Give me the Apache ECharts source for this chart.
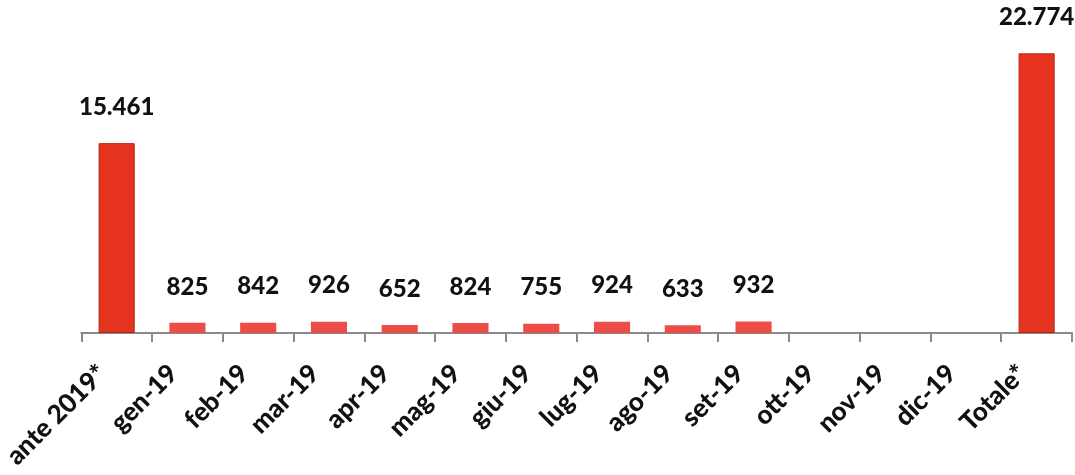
<!DOCTYPE html>
<html>
<head>
<meta charset="utf-8">
<script src="https://cdn.jsdelivr.net/npm/echarts@6/dist/echarts.min.js"></script>
<style>html,body{margin:0;padding:0;background:#fff;}#c{width:1075px;height:475px;}</style>
</head>
<body>
<div id="c"></div>
<script>
const categories = ['ante 2019*','gen-19','feb-19','mar-19','apr-19','mag-19','giu-19','lug-19','ago-19','set-19','ott-19','nov-19','dic-19','Totale*'];
const values = [15461, 825, 842, 926, 652, 824, 755, 924, 633, 932, null, null, null, 22774];
const totalCategories = ['ante 2019*','Totale*'];

const chart = echarts.init(document.getElementById('c'), null, {renderer:'canvas'});
const fmt = v => v == null ? '' : v.toLocaleString('it-IT').replace(/,/g,'.');
const big = {color: '#e5331f', borderColor: '#b0281a', borderWidth: 1};
const small = {color: '#ee4c46', borderColor: '#ee4c46', borderWidth: 0};
const data = values.map((v, i) => ({
  value: v,
  itemStyle: totalCategories.includes(categories[i]) ? big : small
}));
chart.setOption({
  animation: false,
  backgroundColor: '#ffffff',
  grid: {left: 80, right: 3, top: 26, bottom: 142, containLabel: false},
  xAxis: {
    type: 'category',
    data: categories,
    axisLine: {lineStyle: {color: '#8a8a8a', width: 2}},
    axisTick: {show: true, length: 9, lineStyle: {color: '#8a8a8a', width: 2}},
    axisLabel: {rotate: 45, interval: 0, margin: 22, padding: [0, 20, 0, 0], color: '#111', fontSize: 26, fontWeight: 900, fontFamily: 'Lato'}
  },
  yAxis: {
    type: 'value', min: 0, max: 25000, show: false,
    splitLine: {show: false}
  },
  series: [{
    type: 'bar',
    data: data,
    barWidth: '51%',
    label: {
      show: true, position: 'top', distance: 24,
      color: '#111', fontSize: 24, fontWeight: 900, fontFamily: 'Lato',
      formatter: p => fmt(p.value)
    }
  }]
});
</script>
</body>
</html>
